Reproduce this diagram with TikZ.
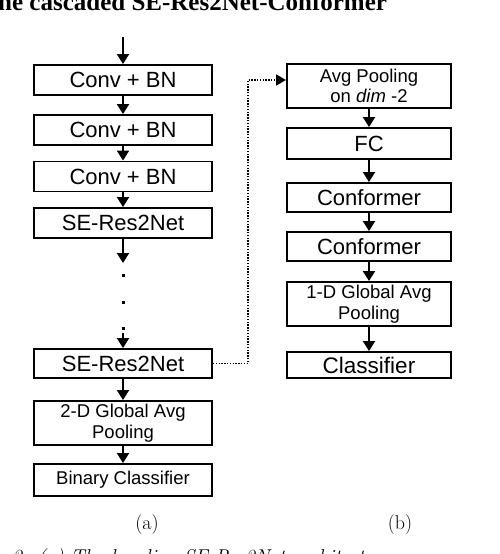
\documentclass[tikz,border=0pt]{standalone}
\usepackage{fontspec}
\newfontfamily\arialfont{Liberation Sans}
\newfontfamily\timesfont{Liberation Serif}
\usetikzlibrary{arrows.meta}

\begin{document}
\begin{tikzpicture}[x=1pt,y=-1pt,
    blk/.style={draw,line width=1.9pt,inner sep=0pt,align=center,minimum height=30pt,
        font=\arialfont\fontsize{22}{24}\selectfont},
    lblk/.style={blk,minimum width=178pt},
    rblk/.style={blk,minimum width=164pt},
    twoline/.style={minimum height=44pt,font=\arialfont\fontsize{18.5}{20.5}\selectfont},
    flow/.style={-{Triangle[width=12pt,length=10pt]},line width=1.9pt},
    tapline/.style={-{Triangle[width=11pt,length=10pt]},line width=1.4pt,dash pattern=on 1.4pt off 1.4pt}]
    \useasboundingbox (0,0) rectangle (500,554);
    % cut-off caption lines
    \node[anchor=base west,inner sep=0pt,font=\timesfont\bfseries\fontsize{25}{28}\selectfont] (title) at (-2,10) {he cascaded SE-Res2Net-Conformer};
    \node[anchor=base west,inner sep=0pt,font=\itshape\fontsize{20}{24}\selectfont] (caption) at (12,563) {2. (a) The baseline SE-Res2Net architecture};
	% (a) baseline
	\coordinate (in) at (123,37);
	\node[lblk] (conv1) at (123,80) {Conv + BN};
	\node[lblk] (conv2) at (123,130) {Conv + BN};
	\node[lblk] (conv3) at (123,176.5) {Conv + BN};
	\node[lblk] (res1) at (123,223) {SE-Res2Net};
	\coordinate (gapA) at (123,263);
	\fill (121.5,273.5) rectangle +(3,3);
	\fill (121.5,300.5) rectangle +(3,3);
	\fill (121.5,326.5) rectangle +(3,3);
	\coordinate (gapB) at (123,333);
	\node[lblk,minimum height=29pt] (res2) at (123,363.5) {SE-Res2Net};
	\node[lblk,twoline] (gpool2) at (123,423) {2-D Global Avg\\Pooling};
	\node[lblk,minimum height=32pt,font=\arialfont\fontsize{18.5}{20.5}\selectfont] (bincls) at (123,480) {Binary Classifier};
	\draw[flow] (in) -- (conv1);
	\draw[flow] (conv1) -- (conv2);
	\draw[flow] (conv2) -- (conv3);
	\draw[flow] (conv3) -- (res1);
	\draw[flow] (res1) -- (gapA);
	\draw[flow] (gapB) -- (res2);
	\draw[flow] (res2) -- (gpool2);
	\draw[flow] (gpool2) -- (bincls);
	% (b) cascaded
	\node[rblk,twoline] (avgp) at (369,86) {Avg Pooling\\on {\itshape dim} -2};
	\node[rblk,minimum height=31pt] (fc) at (369,143.5) {FC};
	\node[rblk,minimum height=29pt] (conf1) at (369,197.5) {Conformer};
	\node[rblk,minimum height=29pt] (conf2) at (369,246.5) {Conformer};
	\node[rblk,twoline] (gpool1) at (369,304) {1-D Global Avg\\Pooling};
	\node[rblk,minimum height=26pt,font=\arialfont\fontsize{22.5}{24}\selectfont] (cls) at (369,365) {Classifier};
	\draw[flow] (avgp) -- (fc);
	\draw[flow] (fc) -- (conf1);
	\draw[flow] (conf1) -- (conf2);
	\draw[flow] (conf2) -- (gpool1);
	\draw[flow] (gpool1) -- (cls);
	\coordinate (tap) at (248,80);
	\draw[tapline] (res2.east) -| (tap) -- (tap -| avgp.west);
	% sub-labels
	\node[inner sep=0pt,font=\fontsize{20}{24}\selectfont] (la) at (147,525) {(a)};
	\node[inner sep=0pt,font=\fontsize{20}{24}\selectfont] (lb) at (400,525) {(b)};
\end{tikzpicture}
\end{document}
